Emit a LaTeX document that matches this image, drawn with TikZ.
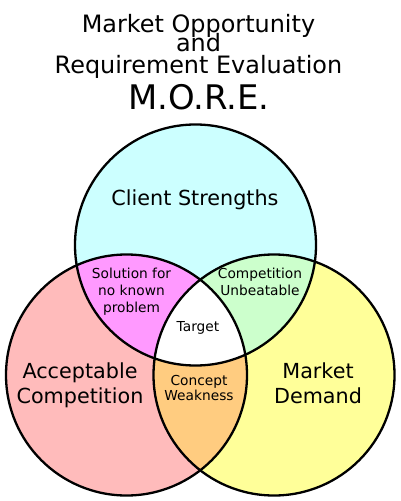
\documentclass[tikz,border=0pt]{standalone}
\usepackage{fontspec}
\setmainfont{DejaVu Sans}
\definecolor{strengthfill}{RGB}{204,255,255}
\definecolor{competitionfill}{RGB}{255,187,187}
\definecolor{demandfill}{RGB}{255,255,153}
\definecolor{solutionfill}{RGB}{255,153,255}
\definecolor{unbeatablefill}{RGB}{204,255,204}
\definecolor{weaknessfill}{RGB}{255,204,128}

\begin{document}
\begin{tikzpicture}[
    x=1bp,
    y=-1bp,
    venn outline/.style={
      draw=black,
      line width=2.3bp
    },
    title text/.style={
      anchor=base,
      inner sep=0pt,
      text depth=0pt,
      font=\fontsize{24}{26}\selectfont
    },
    big label/.style={
      anchor=base,
      inner sep=0pt,
      font=\fontsize{20.8}{23}\selectfont
    },
    small label/.style={
      anchor=base,
      inner sep=0pt,
      font=\fontsize{13.8}{15}\selectfont
    }
]
\useasboundingbox (0,0) rectangle (400,501);

% Circle centres.
\coordinate (cs) at (195.5,245);
\coordinate (ac) at (126.5,375);
\coordinate (md) at (274,375);
\def\vennr{120.5bp}

% Plain circle fills.
\fill[strengthfill] (cs) circle[radius=\vennr];
\fill[competitionfill] (ac) circle[radius=\vennr];
\fill[demandfill] (md) circle[radius=\vennr];

% Pairwise overlaps, then the common part.
\begin{scope}
  \clip (cs) circle[radius=\vennr];
  \fill[solutionfill] (ac) circle[radius=\vennr];
  \fill[unbeatablefill] (md) circle[radius=\vennr];
\end{scope}
\begin{scope}
  \clip (ac) circle[radius=\vennr];
  \fill[weaknessfill] (md) circle[radius=\vennr];
  \clip (md) circle[radius=\vennr];
  \fill[white] (cs) circle[radius=\vennr];
\end{scope}

\draw[venn outline] (cs) circle[radius=\vennr];
\draw[venn outline] (ac) circle[radius=\vennr];
\draw[venn outline] (md) circle[radius=\vennr];

% Title.
\node[title text] (title1) at (198.5,32.5) {Market Opportunity};
\node[title text] (title2) at (198.5,52) {and};
\node[title text] (title3) at (198.5,73.5) {Requirement Evaluation};
\node[title text,font=\fontsize{34}{36}\selectfont] (acronym)
  at (199,110) {M.O.R.E.};

% Circle labels.
\node[big label] (strengths) at (195,205) {Client Strengths};
\node[big label] (acceptable1) at (80,378) {Acceptable};
\node[big label] (acceptable2) at (80,403) {Competition};
\node[big label] (demand1) at (318,378) {Market};
\node[big label] (demand2) at (318,403) {Demand};

% Overlap labels.
\node[small label] (solution1) at (131.5,278) {Solution for};
\node[small label] (solution2) at (131.5,295) {no known};
\node[small label] (solution3) at (131.5,312) {problem};
\node[small label] (unbeatable1) at (260,278) {Competition};
\node[small label] (unbeatable2) at (260,295) {Unbeatable};
\node[small label] (target) at (198,331) {Target};
\node[small label] (weakness1) at (199,385) {Concept};
\node[small label] (weakness2) at (199,400) {Weakness};

\end{tikzpicture}
\end{document}
